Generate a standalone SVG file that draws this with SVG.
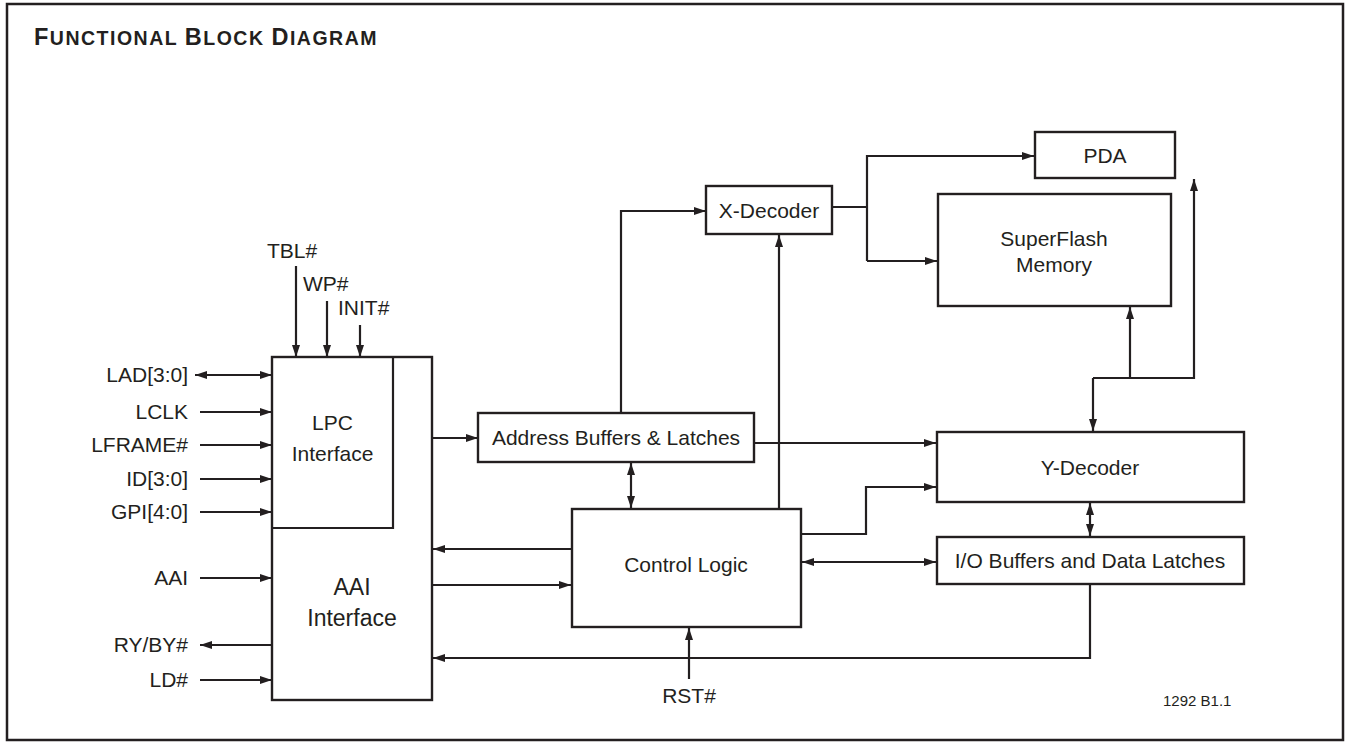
<svg xmlns="http://www.w3.org/2000/svg" width="1349" height="745" viewBox="0 0 1349 745">
<style>
text{font-family:"Liberation Sans",Arial,Helvetica,sans-serif;fill:#231f20;}
.lbl{font-size:21px;}
.mid{text-anchor:middle;}
.end{text-anchor:end;}
.box{fill:#fff;stroke:#231f20;stroke-width:2.4;}
.ln{fill:none;stroke:#231f20;stroke-width:2.2;}
.title{font-weight:bold;letter-spacing:1.5px;}
</style>
<defs>
<marker id="ah" viewBox="0 0 12 8" refX="12" refY="4" markerWidth="12" markerHeight="8" orient="auto-start-reverse" markerUnits="userSpaceOnUse"><path d="M0,0 L12,4 L0,8 z" fill="#231f20"/></marker>
</defs>
<rect width="1349" height="745" fill="#fff"/>
<rect x="7" y="4" width="1336" height="736" fill="none" stroke="#231f20" stroke-width="2.5"/>
<text x="34" y="45" class="title"><tspan font-size="23.5">F</tspan><tspan font-size="19.5">UNCTIONAL </tspan><tspan font-size="23.5">B</tspan><tspan font-size="19.5">LOCK </tspan><tspan font-size="23.5">D</tspan><tspan font-size="19.5">IAGRAM</tspan></text>

<g id="connectors">
<path class="ln" d="M296,266 V357" marker-end="url(#ah)"/>
<path class="ln" d="M327,301 V357" marker-end="url(#ah)"/>
<path class="ln" d="M360,325 V357" marker-end="url(#ah)"/>
<path class="ln" d="M195,375 H272" marker-start="url(#ah)" marker-end="url(#ah)"/>
<path class="ln" d="M200,412 H272" marker-end="url(#ah)"/>
<path class="ln" d="M200,445 H272" marker-end="url(#ah)"/>
<path class="ln" d="M200,479 H272" marker-end="url(#ah)"/>
<path class="ln" d="M200,512 H272" marker-end="url(#ah)"/>
<path class="ln" d="M200,578 H272" marker-end="url(#ah)"/>
<path class="ln" d="M272,645 H200" marker-end="url(#ah)"/>
<path class="ln" d="M200,680 H272" marker-end="url(#ah)"/>
<path class="ln" d="M432,438 H478" marker-end="url(#ah)"/>
<path class="ln" d="M621,413 V211 H706" marker-end="url(#ah)"/>
<path class="ln" d="M832,207 H867"/>
<path class="ln" d="M867,261 V156 H1034" marker-end="url(#ah)"/>
<path class="ln" d="M867,261 H937" marker-end="url(#ah)"/>
<path class="ln" d="M779,509 V235" marker-end="url(#ah)"/>
<path class="ln" d="M754,443 H936" marker-end="url(#ah)"/>
<path class="ln" d="M631,463 V508" marker-start="url(#ah)" marker-end="url(#ah)"/>
<path class="ln" d="M801,534 H866 V487 H936" marker-end="url(#ah)"/>
<path class="ln" d="M802,562 H936" marker-start="url(#ah)" marker-end="url(#ah)"/>
<path class="ln" d="M1090,503 V536" marker-start="url(#ah)" marker-end="url(#ah)"/>
<path class="ln" d="M1130,378 V307" marker-end="url(#ah)"/>
<path class="ln" d="M1093,378 H1194 V179" marker-end="url(#ah)"/>
<path class="ln" d="M1093,378 V431" marker-end="url(#ah)"/>
<path class="ln" d="M572,549 H433" marker-end="url(#ah)"/>
<path class="ln" d="M432,585 H571" marker-end="url(#ah)"/>
<path class="ln" d="M689,679 V628" marker-end="url(#ah)"/>
<path class="ln" d="M1090,585 V658 H433" marker-end="url(#ah)"/>
</g>

<g id="lpc-aai">
<rect class="box" x="272" y="357" width="160" height="343"/>
<path class="ln" d="M393,357 V528 H272" stroke-width="2.4"/>
<text class="lbl mid" x="332.5" y="430">LPC</text>
<text class="lbl mid" x="332.5" y="461">Interface</text>
<text class="mid" font-size="23" x="352" y="595">AAI</text>
<text class="mid" font-size="23" x="352" y="626">Interface</text>
</g>
<g id="address-buffers">
<rect class="box" x="478" y="413" width="276" height="49"/>
<text class="lbl mid" x="616" y="445">Address Buffers &amp; Latches</text>
</g>
<g id="x-decoder">
<rect class="box" x="706" y="186" width="126" height="48"/>
<text class="lbl mid" x="769" y="218">X-Decoder</text>
</g>
<g id="pda">
<rect class="box" x="1035" y="132" width="140" height="46"/>
<text class="lbl mid" x="1105" y="163">PDA</text>
</g>
<g id="superflash">
<rect class="box" x="938" y="194" width="233" height="112"/>
<text class="lbl mid" x="1054" y="246">SuperFlash</text>
<text class="lbl mid" x="1054" y="272">Memory</text>
</g>
<g id="y-decoder">
<rect class="box" x="937" y="432" width="307" height="70"/>
<text class="lbl mid" x="1090" y="475">Y-Decoder</text>
</g>
<g id="io-buffers">
<rect class="box" x="937" y="537" width="307" height="47"/>
<text class="lbl mid" x="1090" y="568">I/O Buffers and Data Latches</text>
</g>
<g id="control-logic">
<rect class="box" x="572" y="509" width="229" height="118"/>
<text class="lbl mid" x="686" y="572">Control Logic</text>
</g>

<g id="signals">
<text class="lbl" x="267" y="258">TBL#</text>
<text class="lbl" x="303" y="291">WP#</text>
<text class="lbl" x="338" y="315">INIT#</text>
<text class="lbl end" x="188" y="382">LAD[3:0]</text>
<text class="lbl end" x="188" y="419">LCLK</text>
<text class="lbl end" x="188" y="452">LFRAME#</text>
<text class="lbl end" x="188" y="486">ID[3:0]</text>
<text class="lbl end" x="188" y="519">GPI[4:0]</text>
<text class="lbl end" x="188" y="585">AAI</text>
<text class="lbl end" x="188" y="652">RY/BY#</text>
<text class="lbl end" x="188" y="687">LD#</text>
<text class="lbl mid" x="689" y="703">RST#</text>
<text x="1163" y="706" font-size="15">1292 B1.1</text>
</g>
</svg>
